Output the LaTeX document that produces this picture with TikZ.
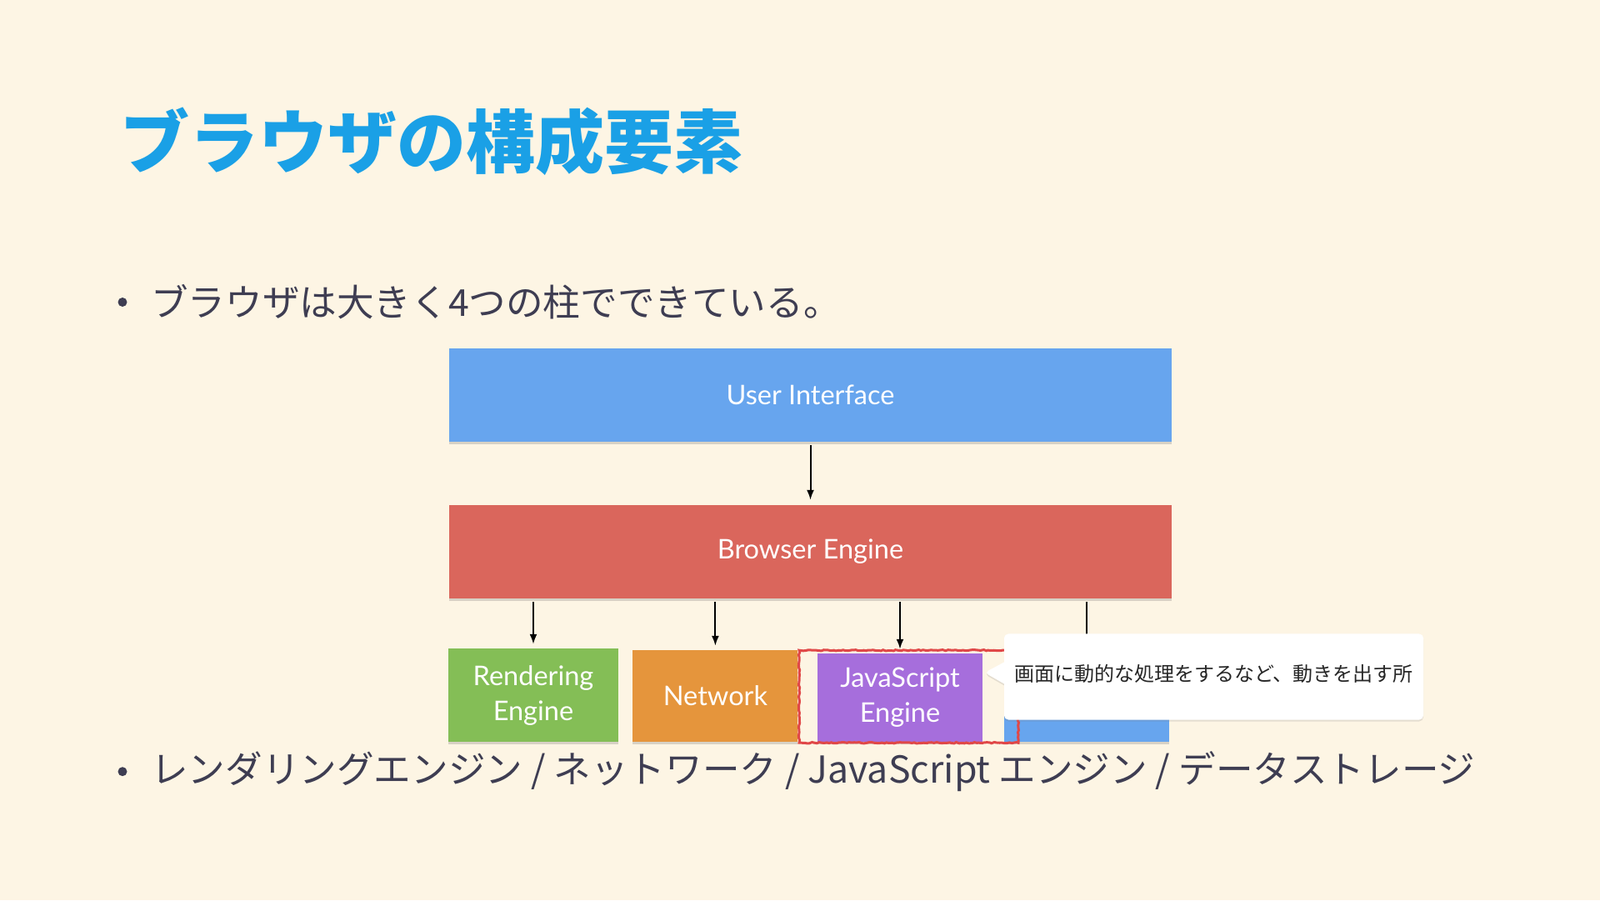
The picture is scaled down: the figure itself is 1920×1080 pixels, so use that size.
\documentclass[tikz,border=0pt]{standalone}
\usepackage{fontspec}
\setmainfont{Lato}
\newfontfamily\jpfont{Noto Sans CJK JP}
\usetikzlibrary{arrows.meta,shapes.callouts,shadows,decorations.pathmorphing}
\definecolor{cream}{HTML}{FDF5E4}
\definecolor{titleblue}{HTML}{1AA0E6}
\definecolor{inkgray}{HTML}{3E3D52}
\definecolor{uiblue}{HTML}{67A5EE}
\definecolor{enginered}{HTML}{DA665C}
\definecolor{rendergreen}{HTML}{84BE56}
\definecolor{netorange}{HTML}{E5953C}
\definecolor{jspurple}{HTML}{A66EDC}
\definecolor{markred}{HTML}{E04848}
\begin{document}
\begin{tikzpicture}[x=1pt,y=1pt,
  blockbox/.style={fill=#1, text=white, inner sep=0pt, align=center,
    font=\fontsize{32.5}{42}\selectfont,
    drop shadow={shadow xshift=0pt,shadow yshift=-3pt,opacity=.3}},
  flow/.style={-{Latex[length=12pt,width=9pt]}, line width=2pt},
  bulletline/.style={anchor=west, inner sep=0pt, text=inkgray,
    font=\jpfont\fontsize{44.6}{52}\selectfont},
  bulletdot/.style={circle, fill=inkgray, inner sep=0pt, minimum size=11pt}]

\fill[cream] (0,0) rectangle (1920,1080);
\useasboundingbox (0,0) rectangle (1920,1080);

% title and first point
\node[anchor=west, inner sep=0pt, text=titleblue,
  font=\jpfont\bfseries\fontsize{83}{90}\selectfont] (title) at (144,910) {ブラウザの構成要素};
\node[bulletdot] (dot1) at (147,717.5) {};
\node[bulletline] (pt1) at (181,717.5) {ブラウザは大きく4つの柱でできている。};

% the layers
\node[blockbox=uiblue, minimum width=867pt, minimum height=112pt] (ui) at (972.5,606) {User Interface};
\node[blockbox=enginered, minimum width=867pt, minimum height=112pt] (engine) at (972.5,418) {\raisebox{-3pt}{Browser Engine}};
\node[blockbox=rendergreen, minimum width=204pt, minimum height=112pt] (render) at (640,246) {\raisebox{-3pt}{Rendering}\\\raisebox{-3pt}{Engine}};
\node[blockbox=netorange, minimum width=198pt, minimum height=110pt] (net) at (858.4,245) {Network};
\node[blockbox=jspurple, minimum width=198pt, minimum height=106pt] (js) at (1080,243) {\raisebox{-2pt}{JavaScript}\\\raisebox{-2pt}{Engine}};
\node[blockbox=uiblue, minimum width=198pt, minimum height=106pt] (store) at (1304,243) {};

\draw[flow, shorten <=4pt, shorten >=6pt] (ui) -- (engine);
\foreach \part in {render,net,js,store}
  \draw[flow, shorten <=4pt, shorten >=5pt] (engine.south -| \part.north) -- (\part.north);

% highlight and note
\node[draw=markred, line width=3pt, minimum width=263pt, minimum height=111pt, inner sep=0pt,
  decorate, decoration={random steps,segment length=3pt,amplitude=.7pt}] (jsmark) at (1090.5,244.3) {};
\coordinate (tip) at (1181.6,273);
\node[rectangle callout, fill=white, rounded corners=5pt, minimum width=503pt, minimum height=103pt,
  inner sep=0pt, callout absolute pointer=(tip), callout pointer width=26pt, text=black!85,
  font=\jpfont\fontsize{24}{28}\selectfont,
  drop shadow={shadow xshift=0pt,shadow yshift=-2pt,opacity=.2}] (note) at (1456.5,268)
  {\raisebox{10pt}{画面に動的な処理をするなど、動きを出す所}};

% second point
\node[bulletdot] (dot2) at (147,154.3) {};
\node[bulletline] (pt2) at (181,154.3) {レンダリングエンジン / ネットワーク / JavaScript エンジン / データストレージ};
\end{tikzpicture}
\end{document}
